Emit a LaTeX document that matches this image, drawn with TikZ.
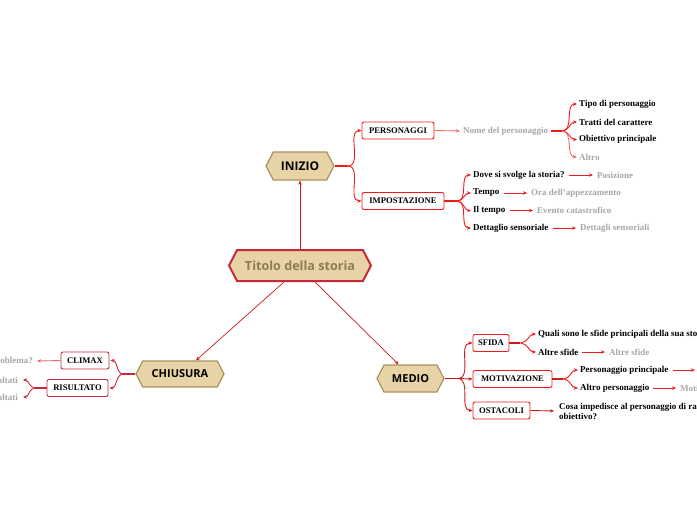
\documentclass[tikz,border=0pt]{standalone}
\usepackage{fontspec}
\setmainfont{Liberation Serif}
\newfontfamily\hexfont{Open Sans}
\usetikzlibrary{shapes.symbols,arrows.meta}

\definecolor{tan}{HTML}{E8D3A6}
\definecolor{tanborder}{HTML}{A8925F}
\definecolor{rosso}{HTML}{F01C1C}
\definecolor{rossoscuro}{HTML}{C8283C}
\definecolor{rosa}{HTML}{F26B6B}
\definecolor{grigio}{HTML}{A6A6A6}

\tikzset{
  hexa/.style={shape=signal, signal to=west and east, signal pointer angle=125,
    fill=tan, draw=tanborder, line width=1.2pt, inner sep=0pt,
    font=\hexfont\bfseries\fontsize{11}{13}\selectfont},
  boxnode/.style={draw=rosso, fill=white, rounded corners=2pt, line width=0.9pt,
    minimum height=17pt, inner sep=0pt, font=\bfseries\fontsize{8.6}{10}\selectfont},
  leaf/.style={anchor=west, inner sep=0pt, font=\bfseries\fontsize{9}{10}\selectfont},
  note/.style={inner sep=0pt, text=grigio, font=\bfseries\fontsize{9}{10}\selectfont},
  arr/.style={draw=rosso, line width=0.9pt, -{Stealth[length=4pt,width=3.5pt]}},
}

\begin{document}
\begin{tikzpicture}[x=1pt,y=-1pt]
\useasboundingbox (0,0) rectangle (697,520);
\clip (0,0) rectangle (697,520);

% Titolo
\node[hexa, draw=rossoscuro, line width=2pt, minimum width=142pt, minimum height=31pt,
  text=tanborder!85!black, font=\hexfont\bfseries\fontsize{12.6}{14}\selectfont]
  (titolo) at (300,265.5) {Titolo della storia};

% Tre parti
\node[hexa, minimum width=68pt, minimum height=28pt,
  font=\hexfont\bfseries\fontsize{12}{13}\selectfont] (inizio) at (300,166) {INIZIO};
\node[hexa, minimum width=88pt, minimum height=26pt] (chiusura) at (180,374) {CHIUSURA};
\node[hexa, minimum width=67pt, minimum height=27pt] (medio) at (410.5,378.5) {MEDIO};

\draw[arr, draw=rosso!85!black, line width=0.7pt] (titolo.north) -- (inizio.south);
\draw[arr, draw=rosso!85!black, line width=0.7pt] ([xshift=-16pt]titolo.south) -- ([xshift=16pt]chiusura.north);
\draw[arr, draw=rosso!85!black, line width=0.7pt] ([xshift=15pt]titolo.south) -- ([xshift=-12pt]medio.north);

% Inizio
\node[boxnode, minimum width=72pt] (personaggi) at (398,130.5) {PERSONAGGI};
\node[boxnode, minimum width=82pt] (impostazione) at (403,201) {IMPOSTAZIONE};
\coordinate (j-inizio) at ([xshift=13pt]inizio.east);
\draw[rosso, line width=1.2pt] (inizio.east) -- (j-inizio);
\draw[arr] (j-inizio) to[out=0,in=180] (personaggi.west);
\draw[arr] (j-inizio) to[out=0,in=180] (impostazione.west);

% Personaggi
\node[note, anchor=west] (nome) at (463,131) {Nome del personaggio};
\draw[arr, draw=rosa] (personaggi.east) -- ([xshift=-3pt]nome.west);
\node[leaf] (tipo) at (579,104) {Tipo di personaggio};
\node[leaf] (tratti) at (579,122) {Tratti del carattere};
\node[leaf] (obiettivo) at (579,139.5) {Obiettivo principale};
\node[leaf, text=grigio] (altro) at (579,157) {Altro};
\coordinate (j-nome) at (562,131);
\draw[rosso, line width=2pt] ([xshift=3pt]nome.east) -- (j-nome);
\foreach \n in {tipo,tratti,obiettivo}
  \draw[arr] (j-nome) to[out=0,in=180] ([xshift=-2pt]\n.west);
\draw[arr, draw=rosa] (j-nome) to[out=0,in=180] ([xshift=-2pt]altro.west);

% Impostazione
\node[leaf] (dove) at (473,175) {Dove si svolge la storia?};
\node[leaf] (tempo) at (473,193) {Tempo};
\node[leaf] (iltempo) at (473,210.5) {Il tempo};
\node[leaf] (dettaglio) at (473,228) {Dettaglio sensoriale};
\coordinate (j-imp) at (457,201);
\draw[rosso, line width=2pt] (impostazione.east) -- (j-imp);
\foreach \n in {dove,tempo,iltempo,dettaglio}
  \draw[arr] (j-imp) to[out=0,in=180] ([xshift=-2pt]\n.west);

\node[note, anchor=west] (posizione) at (597,175) {Posizione};
\node[note, anchor=west] (ora) at (531,193) {Ora dell'appezzamento};
\node[note, anchor=west] (evento) at (537,210.5) {Evento catastrofico};
\node[note, anchor=west] (dettagli) at (580,228) {Dettagli sensoriali};
\draw[arr, shorten <=4pt, shorten >=4pt] (dove.east) -- (posizione.west);
\draw[arr, shorten <=4pt, shorten >=4pt] (tempo.east) -- (ora.west);
\draw[arr, shorten <=4pt, shorten >=4pt] (iltempo.east) -- (evento.west);
\draw[arr, shorten <=4pt, shorten >=4pt] (dettaglio.east) -- (dettagli.west);

% Chiusura
\node[boxnode, draw=rossoscuro, minimum width=48pt] (climax) at (85,360.5) {CLIMAX};
\node[boxnode, draw=rossoscuro, minimum width=61pt] (risultato) at (77.5,388) {RISULTATO};
\coordinate (j-chiusura) at ([xshift=-12pt]chiusura.west);
\draw[rossoscuro, line width=1.2pt] (chiusura.west) -- (j-chiusura);
\draw[arr, draw=rossoscuro] (j-chiusura) to[out=180,in=0] ([xshift=1pt]climax.east);
\draw[arr, draw=rossoscuro] (j-chiusura) to[out=180,in=0] ([xshift=1pt]risultato.east);

\node[note, anchor=east] (problema) at (33,361) {Qual è il problema?};
\draw[arr, draw=rosa] (climax.west) -- ([xshift=4pt]problema.east);
\node[note, anchor=east] (ris1) at (18,380) {Risultati};
\node[note, anchor=east] (ris2) at (18,397) {Risultati};
\coordinate (j-ris) at (35,388);
\draw[rossoscuro, line width=1.2pt] (risultato.west) -- (j-ris);
\draw[arr, draw=rossoscuro] (j-ris) to[out=180,in=0] ([xshift=5pt]ris1.east);
\draw[arr, draw=rossoscuro] (j-ris) to[out=180,in=0] ([xshift=5pt]ris2.east);

% Medio
\node[boxnode, minimum width=36pt] (sfida) at (491,343) {SFIDA};
\node[boxnode, minimum width=79pt] (motivazione) at (512.5,379) {MOTIVAZIONE};
\node[boxnode, minimum width=57pt] (ostacoli) at (501.5,410.5) {OSTACOLI};
\coordinate (j-medio) at ([xshift=13pt]medio.east);
\draw[rosso!85!black, line width=1.2pt] (medio.east) -- (j-medio);
\foreach \n in {sfida,motivazione,ostacoli}
  \draw[arr, draw=rosso!85!black] (j-medio) to[out=0,in=180] (\n.west);

% Sfida
\node[leaf] (quali) at (538,334) {Quali sono le sfide principali della sua storia?};
\node[leaf] (altresfide) at (538,352) {Altre sfide};
\coordinate (j-sfida) at ([xshift=11pt]sfida.east);
\draw[rosso!85!black, line width=1.2pt] (sfida.east) -- (j-sfida);
\draw[arr] (j-sfida) to[out=0,in=180] ([xshift=-2pt]quali.west);
\draw[arr] (j-sfida) to[out=0,in=180] ([xshift=-2pt]altresfide.west);
\node[note, anchor=west] (altresfide2) at (609,352) {Altre sfide};
\draw[arr, shorten <=4pt, shorten >=4pt] (altresfide.east) -- (altresfide2.west);

% Motivazione
\node[leaf] (principale) at (580,370) {Personaggio principale};
\node[leaf] (altropers) at (580,388) {Altro personaggio};
\coordinate (j-mot) at ([xshift=11pt]motivazione.east);
\draw[rosso!85!black, line width=1.2pt] (motivazione.east) -- (j-mot);
\draw[arr] (j-mot) to[out=0,in=180] ([xshift=-2pt]principale.west);
\draw[arr] (j-mot) to[out=0,in=180] ([xshift=-2pt]altropers.west);
\coordinate (principale-fine) at (695,370);
\draw[arr, shorten <=4pt] (principale.east) -- (principale-fine);
\node[note, anchor=west] (motivo) at (680,388) {Motivazione};
\draw[arr, shorten <=4pt, shorten >=4pt] (altropers.east) -- (motivo.west);

% Ostacoli
\node[leaf, align=left] (cosa) at (559,411) {Cosa impedisce al personaggio di raggiungere il suo\\obiettivo?};
\draw[arr, draw=rosso!85!black] (ostacoli.east) -- ([xshift=-5pt]cosa.west);

\end{tikzpicture}
\end{document}
